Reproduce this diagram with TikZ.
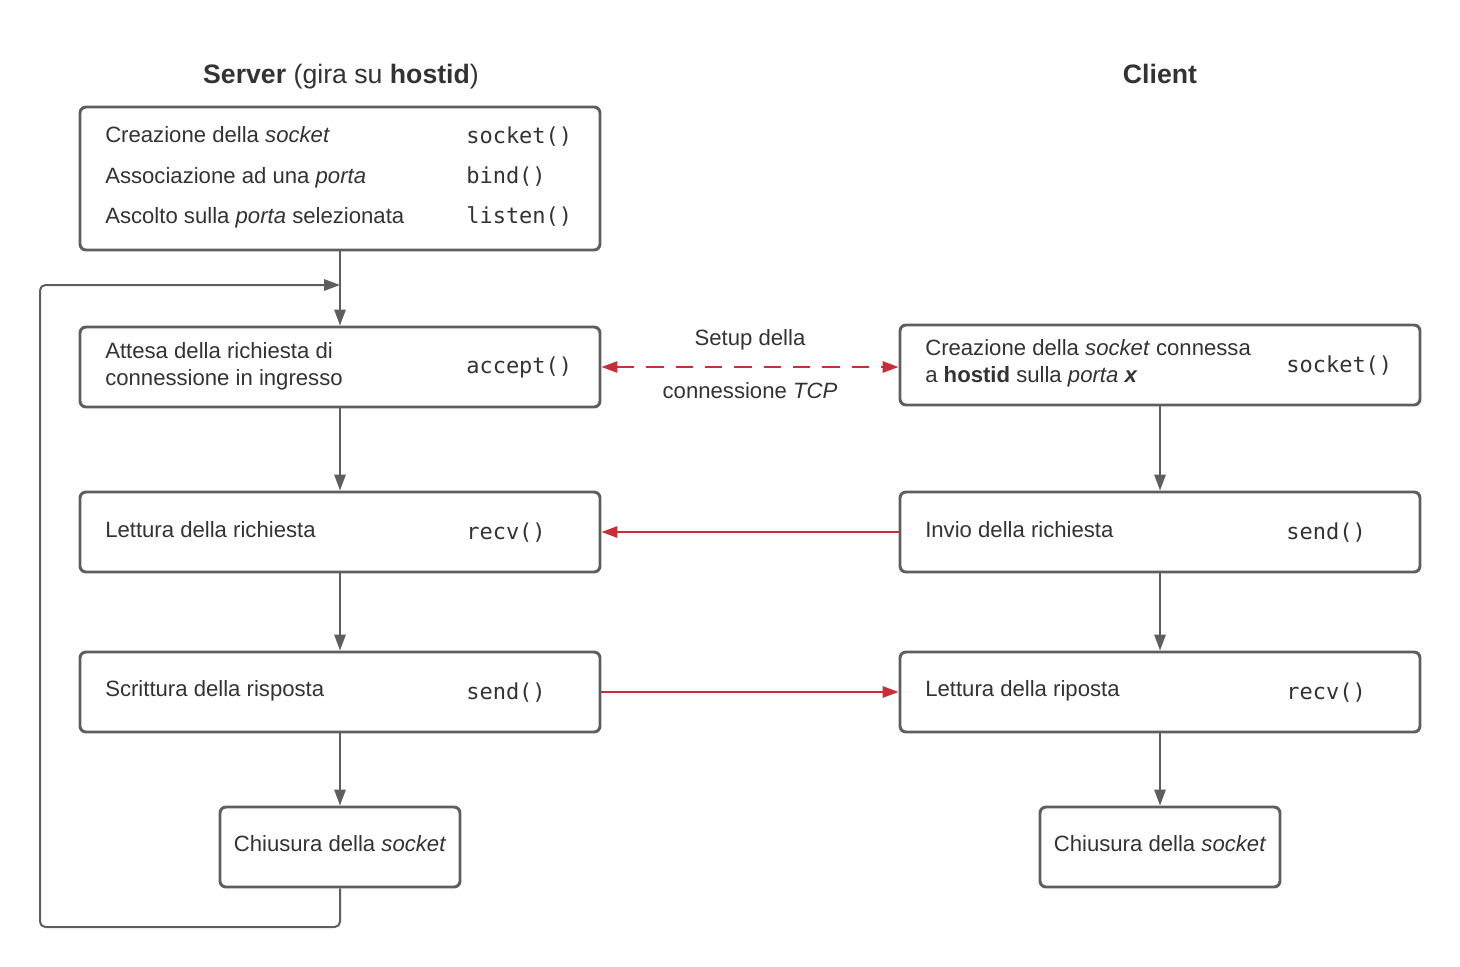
\documentclass[tikz,border=0pt]{standalone}
\usepackage{fontspec}
\setmainfont{Liberation Sans}
\setmonofont{DejaVu Sans Mono}
\usetikzlibrary{arrows.meta}

\definecolor{linegray}{HTML}{5E5E5E}
\definecolor{linkred}{HTML}{C92D39}
\definecolor{textgray}{HTML}{333333}

\tikzset{
  box/.style={draw=linegray, line width=2.2pt, rounded corners=4.5pt, fill=white,
    minimum width=390pt, minimum height=60pt, inner sep=0pt},
  smallbox/.style={box, minimum width=180pt},
  lbl/.style={anchor=base west, inner sep=0pt, text=textgray, font=\fontsize{16.6}{20}\selectfont},
  fn/.style={lbl, font=\fontsize{16.5}{20}\selectfont\ttfamily},
  head/.style={anchor=base, inner sep=0pt, text=textgray, font=\fontsize{20}{24}\selectfont},
  flow/.style={draw=linegray, line width=1.5pt, -{Triangle[length=12pt,width=8.5pt]}},
  msg/.style={draw=linkred, line width=1.5pt, -{Triangle[length=12pt,width=8.5pt]}},
}

\begin{document}
\begin{tikzpicture}[x=0.75pt, y=-0.75pt]
    \useasboundingbox (0,0) rectangle (1460,967);

    % titles
    \node[head] (servertitle) at (341,83) {\textbf{Server} (gira su \textbf{hostid})};
    \node[head] (clienttitle) at (1160,83) {\textbf{Client}};

    % server side
    \node[box, minimum height=107.25pt] (s1) at (340,178.5) {};
    \node[box] (s2) at (340,367) {};
    \node[box] (s3) at (340,532) {};
    \node[box] (s4) at (340,692) {};
    \node[smallbox] (s5) at (340,847) {};

    % client side
    \node[box] (c1) at (1160,365) {};
    \node[box] (c2) at (1160,532) {};
    \node[box] (c3) at (1160,692) {};
    \node[smallbox] (c5) at (1160,847) {};

    % server texts
    \node[lbl] (s1a) at (105,142) {Creazione della \textit{socket}};
    \node[lbl] (s1b) at (105,183) {Associazione ad una \textit{porta}};
    \node[lbl] (s1c) at (105,223) {Ascolto sulla \textit{porta} selezionata};
    \node[fn] (s1x) at (466,143) {socket()};
    \node[fn] (s1y) at (466,183) {bind()};
    \node[fn] (s1z) at (466,223) {listen()};
    \node[lbl] (s2a) at (105,358) {Attesa della richiesta di};
    \node[lbl] (s2b) at (105,385) {connessione in ingresso};
    \node[fn] (s2x) at (466,373) {accept()};
    \node[lbl] (s3a) at (105,537) {Lettura della richiesta};
    \node[fn] (s3x) at (466,539) {recv()};
    \node[lbl] (s4a) at (105,696) {Scrittura della risposta};
    \node[fn] (s4x) at (466,699) {send()};
    \node[lbl, anchor=base] (s5a) at (340,851) {Chiusura della \textit{socket}};

    % client texts
    \node[lbl] (c1a) at (925,355) {Creazione della \textit{socket} connessa};
    \node[lbl] (c1b) at (925,382) {a \textbf{hostid} sulla \textit{porta} \textbf{\textit{x}}};
    \node[fn] (c1x) at (1286,372) {socket()};
    \node[lbl] (c2a) at (925,537) {Invio della richiesta};
    \node[fn] (c2x) at (1286,539) {send()};
    \node[lbl] (c3a) at (925,696) {Lettura della riposta};
    \node[fn] (c3x) at (1286,699) {recv()};
    \node[lbl, anchor=base] (c5a) at (1160,851) {Chiusura della \textit{socket}};

    % tcp setup
    \node[lbl, anchor=base] (setup1) at (750,345) {Setup della};
    \node[lbl, anchor=base] (setup2) at (750,398) {connessione \textit{TCP}};

    \coordinate (loopin) at (340,285);
    \coordinate (loopcorner) at (40,927);

    \draw[flow] (s1.south) -- (s2.north);
    \draw[flow] (s2.south) -- (s3.north);
    \draw[flow] (s3.south) -- (s4.north);
    \draw[flow] (s4.south) -- (s5.north);
    \draw[flow, rounded corners=4pt] (s5.south) |- (loopcorner) |- (loopin); % back to accept

    \draw[flow] (c1.south) -- (c2.north);
    \draw[flow] (c2.south) -- (c3.north);
    \draw[flow] (c3.south) -- (c5.north);

    \draw[msg, {Triangle[length=12pt,width=8.5pt]}-{Triangle[length=12pt,width=8.5pt]}, dash pattern=on 13pt off 9pt]
        (s2.east) -- (s2.east -| c1.west);
    \draw[msg] (c2.west) -- (s3.east);
    \draw[msg] (s4.east) -- (c3.west);
\end{tikzpicture}
\end{document}
